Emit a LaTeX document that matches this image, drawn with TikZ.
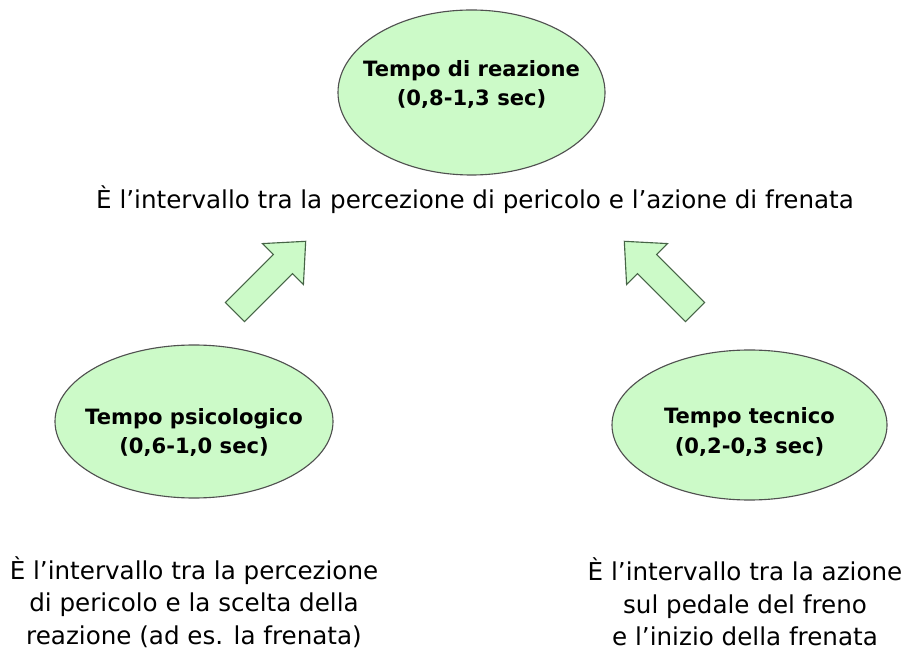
\documentclass[tikz,border=0pt]{standalone}
\usepackage{fontspec}
\setmainfont{DejaVu Sans}
\usetikzlibrary{shapes.geometric,shapes.arrows}

\definecolor{verdino}{RGB}{204,250,200}
\definecolor{bordo}{RGB}{80,80,80}
\definecolor{bordofreccia}{RGB}{70,100,70}

\begin{document}
\begin{tikzpicture}[line width = 0.8pt,
  tempo/.style={ellipse, draw=bordo, fill=verdino, inner sep=0pt},
  titolo/.style={align=center, inner sep=0pt,
    font=\fontsize{15}{21.3}\selectfont\bfseries},
  freccia/.style={single arrow, draw=bordofreccia, fill=verdino,
    inner xsep=0pt, inner ysep=0.325cm, minimum height=2.5cm,
    single arrow head extend=0.385cm, single arrow tip angle=84},
  testo/.style={align=center, inner sep=0pt, font=\fontsize{17.5}{23}\selectfont}]
 \useasboundingbox (0,0) rectangle (22.925,16.25);

 % ellissi
 \node[tempo, minimum width=6.675cm, minimum height=4.125cm] (reazione) at (11.7875,13.9375) {};
 \node[tempo, minimum width=6.95cm, minimum height=3.825cm] (psico) at (4.85,5.7125) {};
 \node[tempo, minimum width=6.875cm, minimum height=3.75cm] (tecnico) at (18.7375,5.625) {};

 \node[titolo] (treazione) at ([yshift=0.2cm]reazione.center)
   {Tempo di reazione\\(0,8-1,3 sec)};
 \node[titolo] (tpsico) at ([yshift=-0.275cm]psico.center)
   {Tempo psicologico\\(0,6-1,0 sec)};
 \node[titolo] (ttecnico) at ([yshift=-0.175cm]tecnico.center)
   {Tempo tecnico\\(0,2-0,3 sec)};

 % testi
 \node[testo] (defreazione) at (11.875,11.25)
   {È l'intervallo tra la percezione di pericolo e l'azione di frenata};
 \node[testo] (defpsico) at (4.85,1.2)
   {È l'intervallo tra la percezione\\di pericolo e la scelta della\\reazione (ad es. la frenata)};
 \node[testo] (deftecnico) at (18.625,1.2)
   {È l'intervallo tra la azione\\sul pedale del freno\\e l'inizio della frenata};

 % frecce
 \node[freccia, rotate=45] (frsx) at (6.625,9.2) {};
 \node[freccia, rotate=135] (frdx) at (16.625,9.2) {};
\end{tikzpicture}
\end{document}
